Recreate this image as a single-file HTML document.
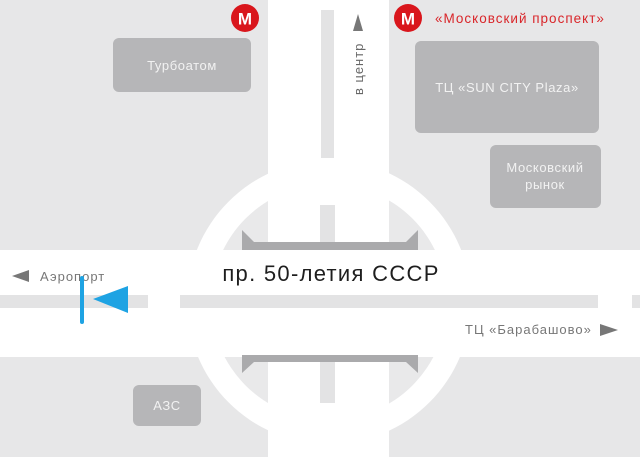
<!DOCTYPE html>
<html><head><meta charset="utf-8"><style>
html,body{margin:0;padding:0;background:#e7e7e8;}
svg{display:block;font-family:"Liberation Sans","DejaVu Sans",sans-serif;}
</style></head><body>
<svg width="640" height="457" viewBox="0 0 640 457">
<rect width="640" height="457" fill="#e7e7e8"/>
<circle cx="329" cy="302" r="142" fill="#fff"/>
<circle cx="329" cy="302" r="118" fill="#e9e9ea"/>
<rect x="268" y="0" width="121" height="457" fill="#fff"/>
<rect x="321" y="10" width="13" height="148" fill="#e3e3e4"/>
<rect x="320" y="205" width="15" height="40" fill="#e3e3e4"/>
<rect x="320" y="360" width="15" height="43" fill="#e3e3e4"/>
<rect x="0" y="250" width="640" height="107" fill="#fff"/>
<rect x="0" y="295" width="148" height="13" fill="#e3e3e4"/>
<rect x="180" y="295" width="418" height="13" fill="#e3e3e4"/>
<rect x="632" y="295" width="8" height="13" fill="#e3e3e4"/>
<polygon points="242,230 254,242 406,242 418,230 418,250 242,250" fill="#aaaaac"/>
<polygon points="242,355 418,355 418,373 406,362 254,362 242,373" fill="#aaaaac"/>
<rect x="113" y="38" width="138" height="54" rx="6" fill="#b6b6b8"/>
<text x="182" y="70" font-size="13" letter-spacing="0.6" fill="#f2f2f2" text-anchor="middle">Турбоатом</text>
<rect x="415" y="41" width="184" height="92" rx="6" fill="#b6b6b8"/>
<text x="507" y="92" font-size="13" letter-spacing="0.6" fill="#f2f2f2" text-anchor="middle">ТЦ «SUN CITY Plaza»</text>
<rect x="490" y="145" width="111" height="63" rx="6" fill="#b6b6b8"/>
<text x="545" y="172" font-size="13" letter-spacing="0.6" fill="#f2f2f2" text-anchor="middle">Московский</text>
<text x="545" y="189" font-size="13" letter-spacing="0.6" fill="#f2f2f2" text-anchor="middle">рынок</text>
<rect x="133" y="385" width="68" height="41" rx="6" fill="#b6b6b8"/>
<text x="167" y="410" font-size="13" letter-spacing="0.6" fill="#f2f2f2" text-anchor="middle">АЗС</text>
<circle cx="245" cy="18" r="14" fill="#d9161c"/>
<text x="245" y="24.5" font-size="17" font-weight="bold" fill="#fff" text-anchor="middle">M</text>
<circle cx="408" cy="18" r="14" fill="#d9161c"/>
<text x="408" y="24.5" font-size="17" font-weight="bold" fill="#fff" text-anchor="middle">M</text>
<text x="435" y="23" font-size="13.5" letter-spacing="1" fill="#d9262a">«Московский проспект»</text>
<polygon points="358,14 353,31 363,31" fill="#777"/>
<text transform="translate(363,95) rotate(-90)" font-size="13" letter-spacing="1" fill="#666">в центр</text>
<polygon points="12,276 29,270 29,282" fill="#777"/>
<text x="40" y="281" font-size="13" letter-spacing="1" fill="#777">Аэропорт</text>
<text x="465" y="334" font-size="13" letter-spacing="1" fill="#777">ТЦ «Барабашово»</text>
<polygon points="618,330 600,324 600,336" fill="#777"/>
<text x="331" y="281" font-size="22" letter-spacing="1.3" fill="#1e1e1e" text-anchor="middle">пр. 50-летия СССР</text>
<rect x="80" y="276" width="4" height="48" rx="2" fill="#1ea3e3"/>
<polygon points="93,299 128,286 128,313" fill="#1ea3e3"/>
</svg>
</body></html>
